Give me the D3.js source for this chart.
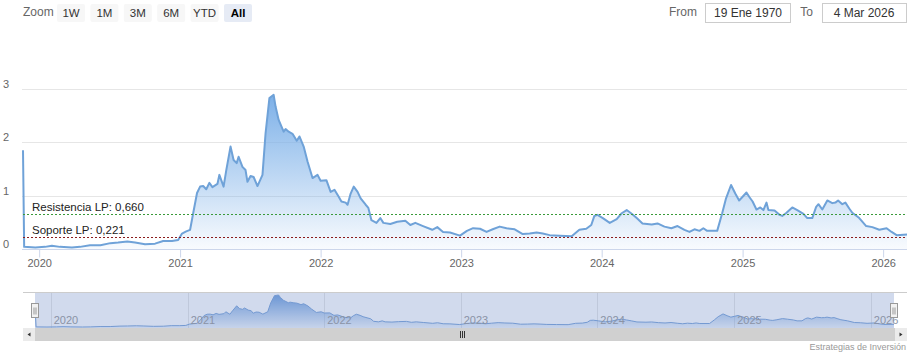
<!DOCTYPE html>
<html><head><meta charset="utf-8">
<script src="https://cdn.jsdelivr.net/npm/d3@7"></script>
<style>body{margin:0;background:#fff;} svg{display:block;font-family:"Liberation Sans",Arial,sans-serif;}</style>
</head><body><svg id="c" width="916" height="362"></svg>
<script>
const dates = [
"2019-11-20","2019-11-23","2019-12-22","2020-01-16","2020-02-03","2020-02-24","2020-03-26","2020-04-16","2020-05-12","2020-06-08",
"2020-07-04","2020-07-24","2020-08-17","2020-09-06","2020-10-02","2020-10-28","2020-11-18","2020-12-11","2020-12-27","2021-01-06",
"2021-01-17","2021-01-27","2021-02-04","2021-02-14","2021-02-22","2021-03-02","2021-03-10","2021-03-18","2021-03-26","2021-04-08",
"2021-04-13","2021-04-24","2021-05-01","2021-05-12","2021-05-20","2021-05-28","2021-06-02","2021-06-12","2021-06-20","2021-06-25",
"2021-07-03","2021-07-11","2021-07-21","2021-08-03","2021-08-11","2021-08-21","2021-09-01","2021-09-06","2021-09-14","2021-09-27",
"2021-10-02","2021-10-10","2021-10-20","2021-10-31","2021-11-07","2021-11-18","2021-11-28","2021-12-11","2021-12-24","2022-01-01",
"2022-01-16","2022-01-27","2022-02-06","2022-02-17","2022-02-24","2022-03-07","2022-03-12","2022-03-20","2022-03-28","2022-04-07",
"2022-04-15","2022-04-28","2022-05-05","2022-05-13","2022-05-26","2022-06-05","2022-06-13","2022-07-01","2022-07-19","2022-08-09",
"2022-08-22","2022-09-04","2022-09-24","2022-10-18","2022-10-31","2022-11-15","2022-12-03","2022-12-29","2023-01-16","2023-02-01",
"2023-02-19","2023-03-08","2023-03-24","2023-04-11","2023-04-29","2023-05-20","2023-06-10","2023-06-28","2023-07-16","2023-08-01",
"2023-08-19","2023-09-14","2023-10-15","2023-11-04","2023-11-22","2023-12-05","2023-12-13","2023-12-21","2024-01-04","2024-01-22",
"2024-02-09","2024-02-22","2024-03-06","2024-03-19","2024-04-01","2024-04-16","2024-05-10","2024-05-25","2024-06-12","2024-06-30",
"2024-07-16","2024-08-03","2024-08-16","2024-08-29","2024-09-11","2024-09-21","2024-10-01","2024-10-27","2024-11-09","2024-11-19",
"2024-12-02","2024-12-13","2024-12-23","2025-01-01","2025-01-11","2025-01-19","2025-01-27","2025-02-06","2025-02-16","2025-02-24",
"2025-03-04","2025-03-09","2025-03-25","2025-04-07","2025-04-14","2025-04-25","2025-05-10","2025-05-23","2025-06-08","2025-06-18",
"2025-07-01","2025-07-11","2025-07-17","2025-07-27","2025-08-09","2025-08-22","2025-08-30","2025-09-06","2025-09-17","2025-09-25",
"2025-10-05","2025-10-13","2025-10-31","2025-11-18","2025-12-04","2025-12-22","2026-01-10","2026-01-23","2026-02-05","2026-03-04"
];
const values = [
1.85,0.04,0.03,0.04,0.06,0.04,0.03,0.04,0.07,0.07,
0.11,0.12,0.14,0.12,0.09,0.10,0.15,0.15,0.17,0.29,
0.33,0.36,0.67,1.05,1.17,1.18,1.12,1.24,1.16,1.22,
1.39,1.17,1.48,1.92,1.67,1.61,1.73,1.54,1.48,1.26,
1.37,1.35,1.18,1.39,2.17,2.83,2.89,2.67,2.42,2.20,
2.25,2.20,2.16,2.03,2.11,1.92,1.64,1.33,1.39,1.28,
1.29,1.07,1.11,0.98,0.89,0.87,0.83,1.04,1.17,1.07,
0.95,0.83,0.77,0.54,0.49,0.58,0.49,0.47,0.51,0.53,
0.45,0.49,0.43,0.36,0.41,0.32,0.31,0.25,0.34,0.39,
0.38,0.32,0.37,0.42,0.39,0.37,0.28,0.29,0.31,0.29,
0.26,0.25,0.24,0.36,0.38,0.45,0.62,0.64,0.58,0.49,
0.56,0.67,0.73,0.66,0.58,0.48,0.46,0.48,0.42,0.39,
0.43,0.36,0.32,0.37,0.34,0.39,0.34,0.34,0.67,0.95,
1.20,1.04,0.91,0.98,1.06,0.97,0.89,0.74,0.78,0.73,
0.87,0.73,0.72,0.64,0.62,0.68,0.78,0.73,0.66,0.58,
0.58,0.79,0.84,0.74,0.91,0.86,0.87,0.91,0.84,0.87,
0.76,0.68,0.58,0.43,0.41,0.36,0.39,0.32,0.26,0.27
];
const yTickValues = [0, 1, 2, 3];
const zoomButtons = ["1W", "1M", "3M", "6M", "YTD", "All"];
const selectedButton = "All";
const plotLineValues = [0.660, 0.221];
const plotLineLabels = ["Resistencia LP: 0,660", "Soporte LP: 0,221"];
const plotLineColors = ["#3a9a3a", "#8c1c1c"];
const zoomLabel = "Zoom", fromText = "From", toText = "To";
const fromDate = "19 Ene 1970", toDate = "4 Mar 2026";
const creditText = "Estrategias de Inversión";

const parse = d3.timeParse("%Y-%m-%d");
const data = dates.map((d, i) => ({date: parse(d), v: values[i]}));
const svg = d3.select("#c");
const defs = svg.append("defs");

// ---------- toolbar ----------
svg.append("text").attr("x", 23).attr("y", 12).attr("dy", "0.35em")
  .attr("font-size", 12).attr("fill", "#666").text(zoomLabel);
const btnX = d3.scalePoint().domain(zoomButtons).range([57, 224]);
const btn = svg.append("g").selectAll("g").data(zoomButtons).join("g")
  .attr("transform", d => `translate(${btnX(d)},4)`);
btn.append("rect").attr("width", 28).attr("height", 18).attr("rx", 2)
  .attr("fill", d => d === selectedButton ? "#e6ebf5" : "#f7f7f7");
btn.append("text").attr("x", 14).attr("y", 9).attr("dy", "0.35em").attr("text-anchor", "middle")
  .attr("font-size", 11.5).attr("fill", d => d === selectedButton ? "#000" : "#333")
  .attr("font-weight", d => d === selectedButton ? "bold" : "normal").text(d => d);

svg.append("text").attr("x", 697).attr("y", 12).attr("dy", "0.35em").attr("text-anchor", "end")
  .attr("font-size", 12).attr("fill", "#666").text(fromText);
svg.append("rect").attr("x", 705.5).attr("y", 3.5).attr("width", 85).attr("height", 19)
  .attr("fill", "#fff").attr("stroke", "#ccc");
svg.append("text").attr("x", 748).attr("y", 13).attr("dy", "0.35em").attr("text-anchor", "middle")
  .attr("font-size", 12).attr("fill", "#333").text(fromDate);
svg.append("text").attr("x", 813).attr("y", 12).attr("dy", "0.35em").attr("text-anchor", "end")
  .attr("font-size", 12).attr("fill", "#666").text(toText);
svg.append("rect").attr("x", 822.5).attr("y", 3.5).attr("width", 84).attr("height", 19)
  .attr("fill", "#fff").attr("stroke", "#ccc");
svg.append("text").attr("x", 864).attr("y", 13).attr("dy", "0.35em").attr("text-anchor", "middle")
  .attr("font-size", 12).attr("fill", "#333").text(toDate);

// ---------- main chart ----------
const x = d3.scaleTime().domain(d3.extent(data, d => d.date)).range([23, 907]);
const y = d3.scaleLinear().domain([0, 3]).range([249, 89]);

const gGrid = svg.append("g");
gGrid.selectAll("line").data(yTickValues).join("line")
  .attr("x1", 22).attr("x2", 907).attr("y1", d => Math.round(y(d)) + 0.5).attr("y2", d => Math.round(y(d)) + 0.5)
  .attr("stroke", "#e6e6e6");
svg.append("g").selectAll("text").data(yTickValues).join("text")
  .attr("x", 3).attr("y", d => y(d) - 5).attr("dy", "0.35em")
  .attr("font-size", 11).attr("fill", "#666").text(d => d);

const grad = defs.append("linearGradient").attr("id", "gm").attr("gradientUnits", "userSpaceOnUse")
  .attr("x1", 0).attr("x2", 0).attr("y1", y(2.9)).attr("y2", y(0));
grad.append("stop").attr("offset", 0).attr("stop-color", "#7cb0e8").attr("stop-opacity", 1);
grad.append("stop").attr("offset", 1).attr("stop-color", "#7cb0e8").attr("stop-opacity", 0.05);

svg.append("path").datum(data)
  .attr("d", d3.area().x(d => x(d.date)).y0(y(0)).y1(d => y(d.v)))
  .attr("fill", "url(#gm)");
svg.append("path").datum(data)
  .attr("d", d3.line().x(d => x(d.date)).y(d => y(d.v)))
  .attr("fill", "none").attr("stroke", "#6fa2d8").attr("stroke-width", 2).attr("stroke-linejoin", "round");

// plot lines
plotLineValues.forEach((v, i) => {
  const yy = Math.round(y(v)) + 0.5;
  svg.append("line").attr("x1", 23).attr("x2", 907).attr("y1", yy).attr("y2", yy)
    .attr("stroke", plotLineColors[i]).attr("stroke-width", 1).attr("stroke-dasharray", "2,2");
  svg.append("text").attr("x", 32).attr("y", yy - 3.5).attr("font-size", 11.5).attr("fill", "#222")
    .text(plotLineLabels[i]);
});

// x axis
const xAxis = d3.axisBottom(x).ticks(d3.timeYear.every(1)).tickFormat(d3.timeFormat("%Y")).tickSize(8).tickSizeOuter(0);
const gx = svg.append("g").attr("transform", "translate(0,249.5)").call(xAxis);
gx.select(".domain").attr("stroke", "#ccd6eb").attr("d", "M22,0H907");
gx.selectAll(".tick line").attr("stroke", "#ccd6eb");
gx.selectAll(".tick text").attr("fill", "#666").attr("font-size", 11).attr("font-family", "Liberation Sans, Arial, sans-serif").attr("y", 10);

// ---------- navigator ----------
const nx = d3.scaleTime().domain(d3.extent(data, d => d.date)).range([35, 894]);
const ny = d3.scaleLinear().domain(d3.extent(data, d => d.v)).range([327, 295]);
const nav = svg.append("g");
const navYears = d3.timeYear.range(d3.timeYear.ceil(nx.domain()[0]), nx.domain()[1]);
nav.selectAll("line.g").data(navYears).join("line")
  .attr("x1", d => Math.round(nx(d)) + 0.5).attr("x2", d => Math.round(nx(d)) + 0.5)
  .attr("y1", 292).attr("y2", 328).attr("stroke", "#e6e6e6");
const ng = defs.append("linearGradient").attr("id", "gn").attr("gradientUnits", "userSpaceOnUse")
  .attr("x1", 0).attr("x2", 0).attr("y1", 295).attr("y2", 328);
ng.append("stop").attr("offset", 0).attr("stop-color", "#6f9fdc").attr("stop-opacity", 1);
ng.append("stop").attr("offset", 1).attr("stop-color", "#6f9fdc").attr("stop-opacity", 0.1);
nav.append("path").datum(data).attr("d", d3.area().x(d => nx(d.date)).y0(328).y1(d => ny(d.v))).attr("fill", "url(#gn)");
nav.append("path").datum(data).attr("d", d3.line().x(d => nx(d.date)).y(d => ny(d.v)))
  .attr("fill", "none").attr("stroke", "#7aa3d8").attr("stroke-width", 1);
nav.append("rect").attr("x", 35).attr("y", 292).attr("width", 859).attr("height", 36)
  .attr("fill", "rgba(102,133,194,0.3)");
nav.append("line").attr("x1", 23).attr("x2", 907).attr("y1", 292.5).attr("y2", 292.5).attr("stroke", "#ccc");
nav.selectAll("text").data(navYears).join("text")
  .attr("x", d => nx(d) + 3).attr("y", 320).attr("dy", "0.35em")
  .attr("font-size", 11).attr("fill", "#8a93a6").text(d3.timeFormat("%Y"));
// handles
[35, 894].forEach(hx => {
  const g = nav.append("g").attr("transform", `translate(${Math.round(hx) - 3.5},303.5)`);
  g.append("rect").attr("width", 7).attr("height", 14).attr("fill", "#f2f2f2").attr("stroke", "#999");
  g.append("line").attr("x1", 2.5).attr("x2", 2.5).attr("y1", 4).attr("y2", 11).attr("stroke", "#999");
  g.append("line").attr("x1", 4.5).attr("x2", 4.5).attr("y1", 4).attr("y2", 11).attr("stroke", "#999");
});
// scrollbar
nav.append("rect").attr("x", 23).attr("y", 328).attr("width", 884).attr("height", 13).attr("fill", "#d0d0d0");
[[23, 1], [895, -1]].forEach(([bx, dir]) => {
  nav.append("rect").attr("x", bx).attr("y", 328).attr("width", 12).attr("height", 13).attr("fill", "#ebebeb");
  const cx = bx + 6, cy = 334.5;
  nav.append("path").attr("d", `M${cx - 1.5 * dir},${cy}L${cx + 1.5 * dir},${cy - 2}L${cx + 1.5 * dir},${cy + 2}Z`).attr("fill", "#333");
});
[-2, 0, 2].forEach(o => nav.append("line").attr("x1", 462.5 + o).attr("x2", 462.5 + o)
  .attr("y1", 331).attr("y2", 338).attr("stroke", "#333"));

svg.append("text").attr("x", 906).attr("y", 347).attr("dy", "0.35em").attr("text-anchor", "end")
  .attr("font-size", 9).attr("fill", "#999").text(creditText);
</script></body></html>
